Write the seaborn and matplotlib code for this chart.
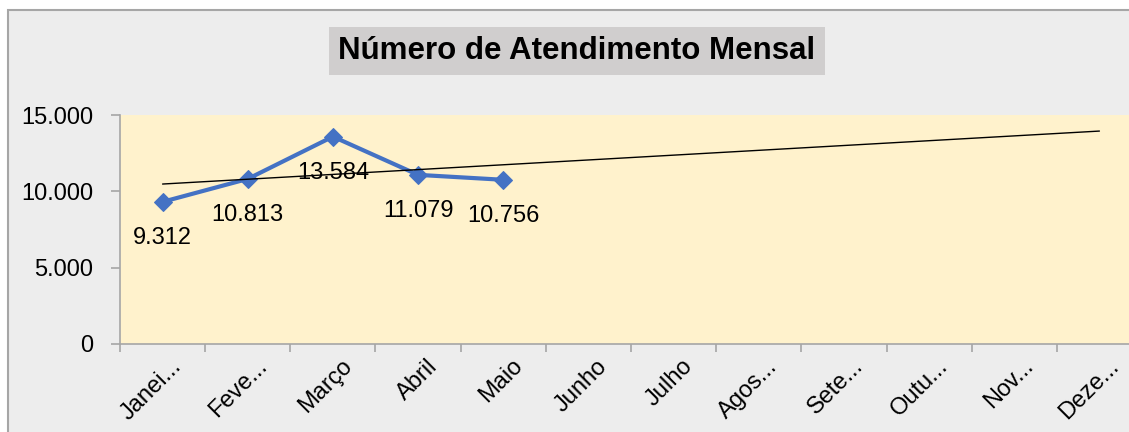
import numpy as np
import pandas as pd
import matplotlib
matplotlib.use("Agg")
import matplotlib.pyplot as plt
import matplotlib.patches as mpatches
from matplotlib.transforms import ScaledTranslation
from matplotlib.ticker import FuncFormatter, FixedLocator
import seaborn as sns

# data
meses = ['Janei...', 'Feve...', 'Março', 'Abril', 'Maio', 'Junho', 'Julho',
         'Agos...', 'Sete...', 'Outu...', 'Nov...', 'Deze...']
atendimentos = [9312, 10813, 13584, 11079, 10756]
y_ticks = [0, 5000, 10000, 15000]

sns.set_style("white")
plt.rcParams['font.family'] = ['Liberation Sans', 'DejaVu Sans']
plt.rcParams['text.color'] = 'black'
plt.rcParams['xtick.labelcolor'] = 'black'
plt.rcParams['ytick.labelcolor'] = 'black'

fig = plt.figure(figsize=(11.29, 4.32), dpi=100)
fig.patch.set_facecolor('white')

# chart area border (Excel style)
fig.patches.append(mpatches.Rectangle((8 / 1129, -0.05), 1.1, 0.05 + (1 - 10 / 432),
                                      transform=fig.transFigure, facecolor='#EDEDED',
                                      edgecolor='#A6A6A6', linewidth=1.5, zorder=-10))

ax = fig.add_axes([120 / 1129, 1 - 344 / 432, 1022 / 1129, 229 / 432])
ax.set_facecolor('#FFF2CC')

df = pd.DataFrame({'x': np.arange(len(atendimentos)), 'y': atendimentos})
sns.lineplot(data=df, x='x', y='y', ax=ax, color='#4472C4', linewidth=3,
             marker='D', markersize=9, markeredgecolor='#4472C4')

# linear trend over all 12 months
coef = np.polyfit(df['x'], df['y'], 1)
xt = np.array([0, len(meses) - 1])
sns.lineplot(x=xt, y=np.polyval(coef, xt), ax=ax, color='black', linewidth=1)

for xi, yi in zip(df['x'], df['y']):
    ax.annotate(f"{yi:,}".replace(",", "."), (xi, yi), xytext=(0, -26),
                textcoords='offset points', ha='center', va='center', fontsize=17,
                color='black')

ax.set_xlim(-0.5, len(meses) - 0.5)
ax.set_ylim(0, 15000)
ax.set_yticks(y_ticks)
ax.yaxis.set_major_formatter(FuncFormatter(lambda v, p: f"{int(v):,}".replace(",", ".")))
ax.set_xticks(range(len(meses)))
ax.set_xticklabels(meses, rotation=45, ha='right', va='top', rotation_mode='anchor')
ax.xaxis.set_minor_locator(FixedLocator(np.arange(-0.5, len(meses), 1)))
ax.tick_params(axis='x', which='major', length=0, pad=8, labelsize=17)
ax.tick_params(axis='x', which='minor', length=6, color='#A6A6A6', width=1.2, bottom=True)
ax.tick_params(axis='y', length=6.5, color='#A6A6A6', width=1.2, pad=13, labelsize=17, left=True)
for lab in ax.get_xticklabels():
    lab.set_transform(lab.get_transform() + ScaledTranslation(0.08, 0, fig.dpi_scale_trans))
ax.set_xlabel('')
ax.set_ylabel('')
for s in ['top', 'right']:
    ax.spines[s].set_visible(False)
for s in ['left', 'bottom']:
    ax.spines[s].set_color('#A6A6A6')
    ax.spines[s].set_linewidth(1.2)

fig.text(577 / 1129, 1 - 51 / 432, 'Número de Atendimento Mensal', ha='center', va='center',
         fontsize=22.5, fontweight='bold', color='black',
         bbox=dict(facecolor='#D0CECE', edgecolor='none', boxstyle='square,pad=0.3'))

fig.savefig('out.png', dpi=100, facecolor=fig.get_facecolor())
